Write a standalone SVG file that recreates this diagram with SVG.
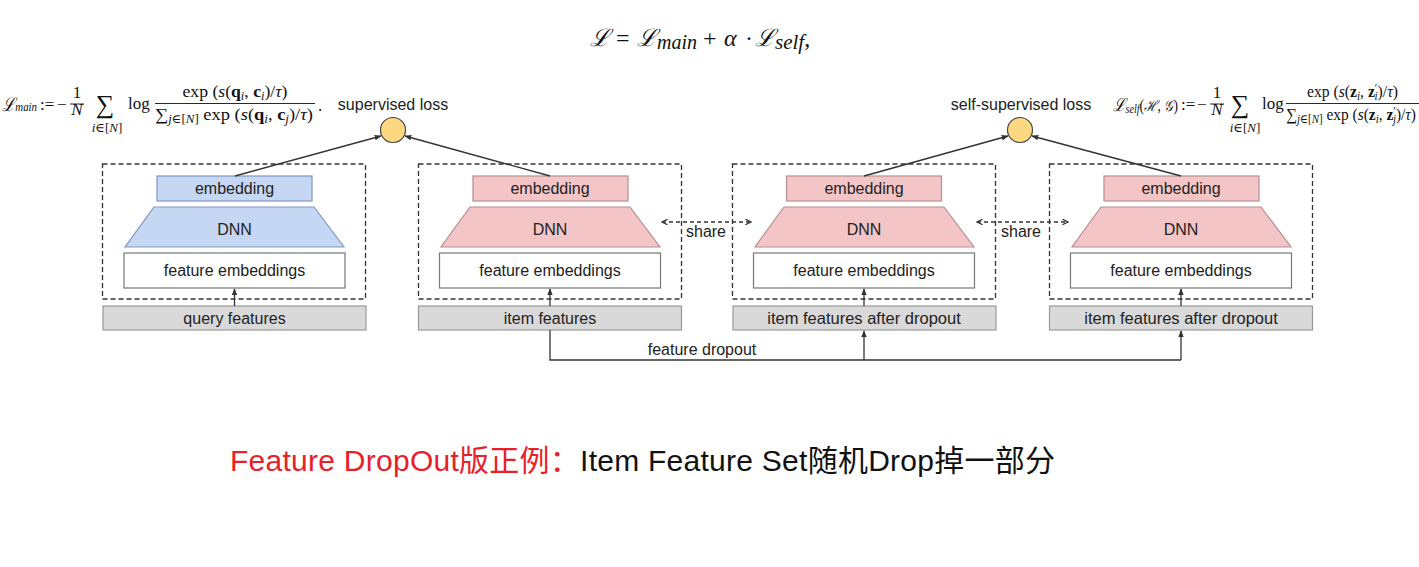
<svg xmlns="http://www.w3.org/2000/svg" width="1419" height="567" viewBox="0 0 1419 567">
<defs>
<style>
.lbl{font-family:"Liberation Sans",Arial,sans-serif;font-size:16px;fill:#222;text-anchor:middle}
.m{font-family:"Liberation Serif","DejaVu Serif",serif;font-size:17px;fill:#111}
.mi{font-style:italic}
.mb{font-weight:bold}
.dash{fill:none;stroke:#333;stroke-width:1.3;stroke-dasharray:5 3}
.blue{fill:#c6d7f3;stroke:#7f97c2;stroke-width:1.2}
.pink{fill:#f3c5c6;stroke:#b88e8f;stroke-width:1.2}
.white{fill:#fff;stroke:#777;stroke-width:1.2}
.gray{fill:#d9d9d9;stroke:#999;stroke-width:1.2}
.ln{fill:none;stroke:#333;stroke-width:1.3}
.sh{fill:none;stroke:#333;stroke-width:1.3;stroke-dasharray:4 3}
</style>
<marker id="ah" viewBox="0 0 10 10" refX="9" refY="5" markerWidth="7" markerHeight="7" orient="auto-start-reverse" markerUnits="userSpaceOnUse">
<path d="M0,1 L10,5 L0,9 z" fill="#333"/>
</marker>
<marker id="oh" viewBox="0 0 10 10" refX="9" refY="5" markerWidth="7" markerHeight="7" orient="auto-start-reverse" markerUnits="userSpaceOnUse">
<path d="M1,1 L9,5 L1,9" fill="none" stroke="#333" stroke-width="1.8"/>
</marker>
</defs>
<rect width="1419" height="567" fill="#fff"/>

<g id="formula-total">
<text class="m" style="font-size:24px" y="46"><tspan x="590" class="mi">ℒ</tspan><tspan x="616">=</tspan><tspan x="637" class="mi">ℒ</tspan><tspan class="mi" style="font-size:20px" dy="3">main</tspan><tspan x="703" dy="-3">+</tspan><tspan x="724" class="mi">α</tspan><tspan x="745">·</tspan><tspan x="755" class="mi">ℒ</tspan><tspan class="mi" style="font-size:21px" dy="3">self</tspan><tspan dy="-3">,</tspan></text>
</g>

<g id="formula-main">
<text class="m" y="111" textLength="35" lengthAdjust="spacingAndGlyphs" x="2"><tspan class="mi" style="font-size:19px">ℒ</tspan><tspan class="mi" style="font-size:13px">main</tspan></text>
<text class="m" x="40" y="110">:=</text>
<text class="m" x="57" y="110">−</text>
<text class="m" x="77" y="98" text-anchor="middle">1</text>
<line x1="70" y1="104" x2="84" y2="104" stroke="#111" stroke-width="0.9"/>
<text class="m mi" x="77" y="115" text-anchor="middle">N</text>
<text class="m" x="105" y="113" text-anchor="middle" style="font-size:26px">∑</text>
<text class="m" x="107" y="132" text-anchor="middle" style="font-size:13px"><tspan class="mi">i</tspan>∈[<tspan class="mi">N</tspan>]</text>
<text class="m" x="128" y="109">log</text>
<text class="m" x="235" y="97" text-anchor="middle" textLength="105" lengthAdjust="spacingAndGlyphs">exp (<tspan class="mi">s</tspan>(<tspan class="mb">q</tspan><tspan class="mi" style="font-size:12px" dy="3">i</tspan><tspan dy="-3">, </tspan><tspan class="mb">c</tspan><tspan class="mi" style="font-size:12px" dy="3">i</tspan><tspan dy="-3">)/</tspan><tspan class="mi">τ</tspan>)</text>
<line x1="155" y1="103.5" x2="315" y2="103.5" stroke="#111" stroke-width="0.9"/>
<text class="m" x="155" y="120" textLength="158" lengthAdjust="spacingAndGlyphs">∑<tspan class="mi" style="font-size:12px" dy="3">j</tspan><tspan style="font-size:12px">∈[</tspan><tspan class="mi" style="font-size:12px">N</tspan><tspan style="font-size:12px">]</tspan><tspan dy="-3"> exp (</tspan><tspan class="mi">s</tspan>(<tspan class="mb">q</tspan><tspan class="mi" style="font-size:12px" dy="3">i</tspan><tspan dy="-3">, </tspan><tspan class="mb">c</tspan><tspan class="mi" style="font-size:12px" dy="3">j</tspan><tspan dy="-3">)/</tspan><tspan class="mi">τ</tspan>)</text>
<text class="m" x="318" y="111">.</text>
</g>

<g id="formula-self">
<text class="m" x="1113" y="111" textLength="65" lengthAdjust="spacingAndGlyphs"><tspan class="mi" style="font-size:18px">ℒ</tspan><tspan class="mi" style="font-size:12px" dy="2">self</tspan><tspan dy="-2" style="font-size:16px">(</tspan><tspan class="mi" style="font-size:15px">ℋ</tspan><tspan style="font-size:16px">, </tspan><tspan class="mi" style="font-size:15px">𝒢</tspan><tspan style="font-size:16px">)</tspan></text>
<text class="m" x="1181" y="110">:=</text>
<text class="m" x="1197" y="110">−</text>
<text class="m" x="1217" y="98" text-anchor="middle">1</text>
<line x1="1210" y1="104" x2="1224" y2="104" stroke="#111" stroke-width="0.9"/>
<text class="m mi" x="1217" y="115" text-anchor="middle">N</text>
<text class="m" x="1240" y="113" text-anchor="middle" style="font-size:26px">∑</text>
<text class="m" x="1245" y="132" text-anchor="middle" style="font-size:13px"><tspan class="mi">i</tspan>∈[<tspan class="mi">N</tspan>]</text>
<text class="m" x="1262" y="109">log</text>
<text class="m" x="1307" y="97" textLength="91" lengthAdjust="spacingAndGlyphs">exp (<tspan class="mi">s</tspan>(<tspan class="mb">z</tspan><tspan class="mi" style="font-size:12px" dy="3">i</tspan><tspan dy="-3">, </tspan><tspan class="mb">z</tspan><tspan style="font-size:12px" dy="-5">′</tspan><tspan class="mi" style="font-size:12px" dx="-3" dy="8">i</tspan><tspan dy="-3">)/</tspan><tspan class="mi">τ</tspan>)</text>
<line x1="1286" y1="103.5" x2="1419" y2="103.5" stroke="#111" stroke-width="0.9"/>
<text class="m" x="1286" y="120" textLength="130" lengthAdjust="spacingAndGlyphs">∑<tspan class="mi" style="font-size:12px" dy="3">j</tspan><tspan style="font-size:12px">∈[</tspan><tspan class="mi" style="font-size:12px">N</tspan><tspan style="font-size:12px">]</tspan><tspan dy="-3"> exp (</tspan><tspan class="mi">s</tspan>(<tspan class="mb">z</tspan><tspan class="mi" style="font-size:12px" dy="3">i</tspan><tspan dy="-3">, </tspan><tspan class="mb">z</tspan><tspan style="font-size:12px" dy="-5">′</tspan><tspan class="mi" style="font-size:12px" dx="-3" dy="8">j</tspan><tspan dy="-3">)/</tspan><tspan class="mi">τ</tspan>)</text>
</g>

<g id="loss-supervised">
<text class="lbl" x="393" y="110">supervised loss</text>
<circle cx="393" cy="130" r="12.5" fill="#fdd881" stroke="#444" stroke-width="1.2"/>
</g>
<g id="loss-self">
<text class="lbl" x="1021" y="110">self-supervised loss</text>
<circle cx="1020" cy="130" r="12.5" fill="#fdd881" stroke="#444" stroke-width="1.2"/>
</g>

<g id="tower-query">
<rect class="dash" x="102.5" y="164" width="263" height="135"/>
<rect class="blue" x="157" y="176" width="155" height="25"/>
<text class="lbl" x="234.5" y="194">embedding</text>
<polygon class="blue" points="154,207 314,207 344,247 125,247"/>
<text class="lbl" x="234.5" y="235">DNN</text>
<rect class="white" x="124" y="253" width="221" height="35"/>
<text class="lbl" x="234.5" y="276">feature embeddings</text>
<rect class="gray" x="103" y="306" width="263" height="24"/>
<text class="lbl" x="234.5" y="324">query features</text>
</g>

<g id="tower-item">
<rect class="dash" x="418.5" y="164" width="263" height="135"/>
<rect class="pink" x="473" y="176" width="155" height="25"/>
<text class="lbl" x="550" y="194">embedding</text>
<polygon class="pink" points="470,207 630,207 660,247 441,247"/>
<text class="lbl" x="550" y="235">DNN</text>
<rect class="white" x="439.5" y="253" width="221" height="35"/>
<text class="lbl" x="550" y="276">feature embeddings</text>
<rect class="gray" x="418.5" y="306" width="263" height="24"/>
<text class="lbl" x="550" y="324">item features</text>
</g>

<g id="tower-dropout-1">
<rect class="dash" x="732.5" y="164" width="263" height="135"/>
<rect class="pink" x="786.5" y="176" width="155" height="25"/>
<text class="lbl" x="864" y="194">embedding</text>
<polygon class="pink" points="784,207 944,207 974,247 755,247"/>
<text class="lbl" x="864" y="235">DNN</text>
<rect class="white" x="753.5" y="253" width="221" height="35"/>
<text class="lbl" x="864" y="276">feature embeddings</text>
<rect class="gray" x="733" y="306" width="263" height="24"/>
<text class="lbl" x="864" y="324" style="font-size:16.5px">item features after dropout</text>
</g>

<g id="tower-dropout-2">
<rect class="dash" x="1049.5" y="164" width="263" height="135"/>
<rect class="pink" x="1104" y="176" width="155" height="25"/>
<text class="lbl" x="1181" y="194">embedding</text>
<polygon class="pink" points="1101,207 1261,207 1291,247 1072,247"/>
<text class="lbl" x="1181" y="235">DNN</text>
<rect class="white" x="1070.5" y="253" width="221" height="35"/>
<text class="lbl" x="1181" y="276">feature embeddings</text>
<rect class="gray" x="1049.5" y="306" width="263" height="24"/>
<text class="lbl" x="1181" y="324" style="font-size:16.5px">item features after dropout</text>
</g>

<g id="connectors">
<line class="ln" x1="235" y1="176" x2="381" y2="136" marker-end="url(#ah)"/>
<line class="ln" x1="550" y1="176" x2="405" y2="136" marker-end="url(#ah)"/>
<line class="ln" x1="864" y1="176" x2="1008" y2="136" marker-end="url(#ah)"/>
<line class="ln" x1="1181" y1="176" x2="1032" y2="136" marker-end="url(#ah)"/>
<line class="ln" x1="234.5" y1="306" x2="234.5" y2="289" marker-end="url(#ah)"/>
<line class="ln" x1="550" y1="306" x2="550" y2="289" marker-end="url(#ah)"/>
<line class="ln" x1="864" y1="306" x2="864" y2="289" marker-end="url(#ah)"/>
<line class="ln" x1="1181" y1="306" x2="1181" y2="289" marker-end="url(#ah)"/>
<path class="ln" d="M550,330 V360 H1181"/>
<line class="ln" x1="864" y1="360" x2="864" y2="331" marker-end="url(#ah)"/>
<line class="ln" x1="1181" y1="360" x2="1181" y2="331" marker-end="url(#ah)"/>
<text class="lbl" x="702" y="355">feature dropout</text>
<line class="sh" x1="662" y1="222" x2="751" y2="222" marker-start="url(#oh)" marker-end="url(#oh)"/>
<text class="lbl" x="706" y="237">share</text>
<line class="sh" x1="977" y1="222" x2="1068" y2="222" marker-start="url(#oh)" marker-end="url(#oh)"/>
<text class="lbl" x="1021" y="237">share</text>
</g>

<g id="caption">
<text x="230" y="471" textLength="825" lengthAdjust="spacing" style="font-family:'Liberation Sans','Noto Sans CJK SC',sans-serif;font-size:30px"><tspan fill="#e8202a">Feature DropOut版正例：</tspan><tspan fill="#111">Item Feature Set随机Drop掉一部分</tspan></text>
</g>
</svg>
